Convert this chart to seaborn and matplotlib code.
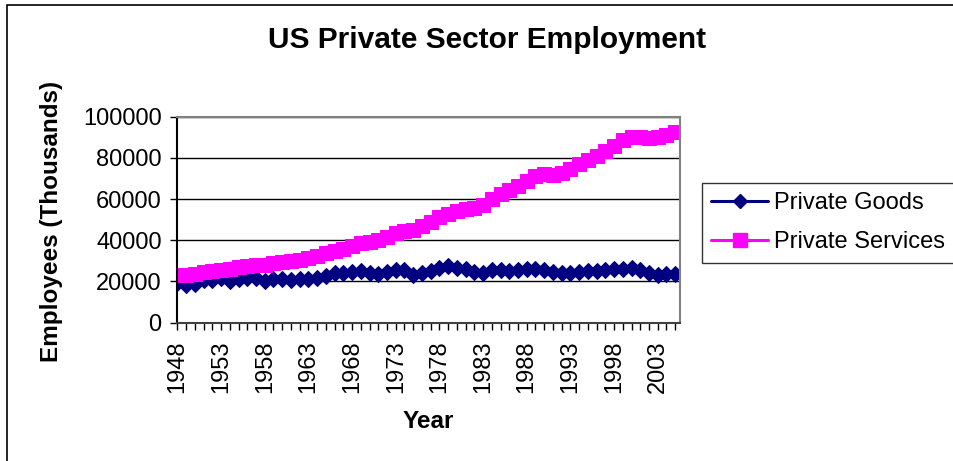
import matplotlib
matplotlib.use("Agg")
import matplotlib.pyplot as plt
import seaborn as sns
import pandas as pd
from matplotlib.patches import Rectangle
from matplotlib.lines import Line2D

years = [1948, 1949, 1950, 1951, 1952, 1953, 1954, 1955, 1956, 1957,
         1958, 1959, 1960, 1961, 1962, 1963, 1964, 1965, 1966, 1967,
         1968, 1969, 1970, 1971, 1972, 1973, 1974, 1975, 1976, 1977,
         1978, 1979, 1980, 1981, 1982, 1983, 1984, 1985, 1986, 1987,
         1988, 1989, 1990, 1991, 1992, 1993, 1994, 1995, 1996, 1997,
         1998, 1999, 2000, 2001, 2002, 2003, 2004, 2005]

goods = [19500, 18200, 19000, 20500, 20800, 21600, 20400, 21100, 21800, 21600,
         20200, 21000, 21000, 20500, 21100, 21300, 21700, 22600, 23900, 24000,
         24500, 25100, 24300, 23700, 24400, 25700, 25600, 23300, 24100, 25100,
         26400, 27300, 26500, 26300, 24600, 24100, 25500, 25600, 25300, 25500,
         25900, 26100, 25700, 24500, 24000, 24100, 24700, 25000, 25300, 25800,
         26200, 26300, 26500, 25700, 23900, 23100, 23400, 23800]

services = [23000, 23000, 23600, 24500, 25200, 25800, 26000, 26800, 27600, 28000,
            28200, 29000, 29500, 29800, 30600, 31300, 32300, 33600, 35000, 36000,
            37200, 38600, 39300, 40200, 41800, 43500, 44500, 45000, 46800, 48900,
            51500, 53000, 54000, 55000, 55500, 57000, 60000, 62500, 64500, 66500,
            69000, 71200, 72000, 71800, 72500, 74500, 77000, 79200, 81000, 83500,
            86000, 88500, 90000, 90200, 89800, 90000, 91000, 92500]

series_names = ["Private Goods", "Private Services"]
y_ticks = [0, 20000, 40000, 60000, 80000, 100000]
label_years = [1948, 1953, 1958, 1963, 1968, 1973, 1978, 1983, 1988, 1993, 1998, 2003]

df = pd.DataFrame({
    "Year": years + years,
    "Employees": goods + services,
    "Series": [series_names[0]] * len(years) + [series_names[1]] * len(years),
})

sns.set_style("white")
plt.rcParams["font.family"] = ["Liberation Sans", "DejaVu Sans"]
plt.rcParams["text.color"] = "black"
plt.rcParams["xtick.color"] = "black"
plt.rcParams["ytick.color"] = "black"

colors = {"Private Goods": "#000080", "Private Services": "#FF00FF"}
markers = {"Private Goods": "D", "Private Services": "s"}
msizes = {"Private Goods": 8.5, "Private Services": 10.5}

fig = plt.figure(figsize=(9.54, 4.61), dpi=100)
ax = fig.add_axes([177 / 954, 1 - 322.7 / 461, (680 - 177) / 954, (322.7 - 116.7) / 461])

sns.lineplot(data=df, x="Year", y="Employees", hue="Series", style="Series",
             palette=colors, markers=markers, dashes=False, linewidth=2.2,
             markersize=8, ax=ax, legend=False)

for line, name in zip(ax.lines, series_names):
    line.set_markeredgecolor(colors[name])
    line.set_markerfacecolor(colors[name])
    line.set_markersize(msizes[name])

ax.set_ylim(0, 100000)
ax.set_xlim(years[0] - 0.05, years[-1] + 0.55)
ax.set_yticks(y_ticks)
ax.set_yticklabels([str(v) for v in y_ticks])
ax.set_xticks(years)
ax.set_xticklabels([str(y) if y in label_years else "" for y in years], rotation=90)
ax.tick_params(axis="y", direction="out", length=5, width=1, pad=6, labelsize=17,
               colors="black", labelcolor="black", left=True)
ax.tick_params(axis="x", direction="out", length=5, width=1, pad=8, labelsize=17,
               colors="black", labelcolor="black", bottom=True)
ax.set_xlabel("")
ax.set_ylabel("")

for yv in y_ticks[1:]:
    ax.axhline(yv, color="black", lw=1, zorder=0.5)

ax.spines["left"].set_color("black")
ax.spines["left"].set_linewidth(1.5)
ax.spines["bottom"].set_color("#404040")
ax.spines["bottom"].set_linewidth(1.5)
ax.spines["top"].set_color("#808080")
ax.spines["top"].set_linewidth(1.5)
ax.spines["right"].set_color("#808080")
ax.spines["right"].set_linewidth(1.5)

fig.text(487.5 / 954, 1 - 40 / 461, "US Private Sector Employment", ha="center", va="center",
         fontsize=21.5, fontweight="bold", color="black")
fig.text(52 / 954, 1 - 221 / 461, "Employees (Thousands)", ha="center", va="center",
         rotation=90, fontsize=17.5, fontweight="bold", color="black")
fig.text(428 / 954, 1 - 421.5 / 461, "Year", ha="center", va="center",
         fontsize=17.5, fontweight="bold", color="black")

handles = [Line2D([], [], color=colors[n], marker=markers[n], markersize=msizes[n] - 1,
                  markeredgecolor=colors[n], lw=2.2) for n in series_names]
leg = fig.legend(handles, series_names, loc="upper left", bbox_to_anchor=(702 / 954, 1 - 182.7 / 461),
                 frameon=True, fancybox=False, edgecolor="black", fontsize=17,
                 handlelength=2.4, borderpad=0.4, labelspacing=0.72, handletextpad=0.25,
                 borderaxespad=0)
leg.get_frame().set_linewidth(1)
for t in leg.get_texts():
    t.set_color("black")

fig.patches.append(Rectangle((7.3 / 954, -0.1), 1.2, 1.1 - 4.7 / 461,
                             transform=fig.transFigure, fill=False, edgecolor="black", lw=1.2))

fig.savefig("out.png", dpi=100)
